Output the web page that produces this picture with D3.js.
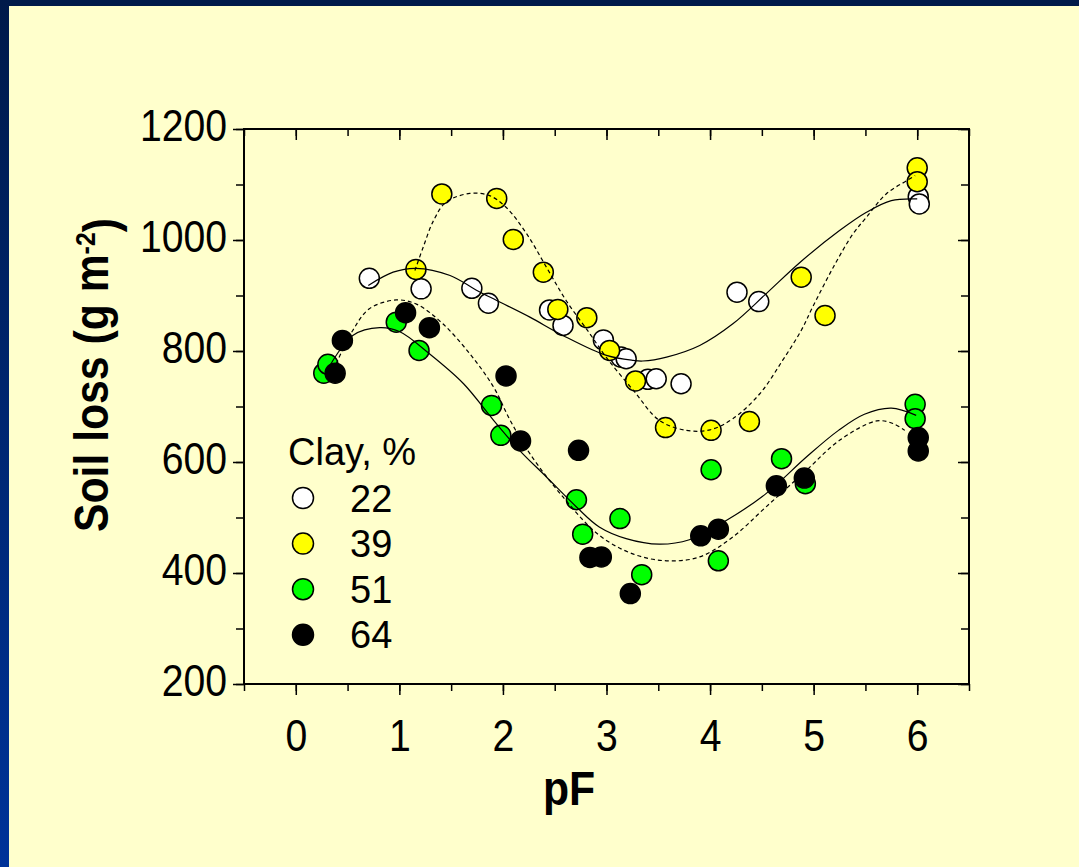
<!DOCTYPE html>
<html>
<head>
<meta charset="utf-8">
<script src="https://cdn.jsdelivr.net/npm/d3@7"></script>
<style>
  body { margin: 0; background: #ffffcc; }
  svg { display: block; }
</style>
</head>
<body>
<svg id="canvas" width="1079" height="867"></svg>
<script>
/***********************************************************************/
// Data

var clayLabels = ['22', '39', '51', '64'];
var clayColors = ['#ffffff', '#ffff00', '#00ff00', '#000000'];

// measured points, pF and soil loss (g m-2)
var pf22   = [0.71, 1.21, 1.70, 1.86, 2.45, 2.58, 2.97, 3.14, 3.19, 3.40, 3.48, 3.72, 4.26, 4.47, 6.01, 6.02];
var loss22 = [931, 912, 913, 886, 874, 846, 820, 789, 786, 749, 750, 741, 906, 889, 1078, 1065];

var pf39   = [1.16, 1.41, 1.94, 2.10, 2.39, 2.53, 2.81, 3.03, 3.28, 3.57, 4.01, 4.38, 4.88, 5.11, 6.00, 6.00];
var loss39 = [947, 1083, 1075, 1001, 942, 875, 860, 801, 746, 662, 657, 673, 933, 864, 1130, 1105];

var pf51   = [0.27, 0.31, 0.97, 1.19, 1.89, 1.98, 2.71, 2.77, 3.13, 3.34, 4.01, 4.08, 4.69, 4.92, 5.98, 5.98];
var loss51 = [760, 776, 852, 801, 702, 648, 532, 470, 498, 397, 586, 422, 606, 561, 704, 678];

var pf64   = [0.38, 0.45, 1.06, 1.29, 2.03, 2.17, 2.73, 2.84, 2.95, 3.23, 3.91, 4.08, 4.64, 4.91, 6.01, 6.01];
var loss64 = [760, 819, 869, 842, 755, 638, 621, 428, 429, 363, 467, 479, 557, 571, 644, 620];

// fitted curves
var fitPf22   = [0.70, 0.94, 1.16, 1.49, 1.74, 1.94, 2.26, 2.58, 3.00, 3.26, 3.35, 3.58, 3.90, 4.22, 4.54, 4.87, 5.25, 5.51, 5.75, 6.00];
var fitLoss22 = [918, 942, 949, 936, 910, 891, 861, 828, 792, 783, 782, 789, 810, 849, 903, 960, 1017, 1050, 1071, 1074];

var fitPf39   = [1.15, 1.23, 1.33, 1.45, 1.68, 1.87, 2.03, 2.23, 2.42, 2.61, 2.84, 3.00, 3.26, 3.51, 3.77, 4.00, 4.22, 4.48, 4.70, 4.88, 4.99, 5.19, 5.38, 5.51, 5.70, 5.90, 5.98];
var fitLoss39 = [945, 987, 1035, 1068, 1084, 1080, 1059, 1011, 951, 891, 831, 788, 729, 675, 657, 658, 678, 723, 783, 837, 879, 951, 1011, 1041, 1083, 1107, 1116];

var fitPf51   = [0.33, 0.55, 0.81, 1.00, 1.29, 1.62, 1.91, 2.16, 2.42, 2.71, 2.93, 3.19, 3.51, 3.80, 4.16, 4.54, 4.93, 5.24, 5.49, 5.75, 5.99];
var fitLoss51 = [774, 828, 842, 835, 795, 741, 675, 621, 573, 519, 483, 462, 452, 460, 495, 543, 609, 657, 686, 697, 684];

var fitPf64   = [0.39, 0.55, 0.71, 0.97, 1.17, 1.42, 1.68, 1.91, 2.07, 2.26, 2.58, 2.93, 3.26, 3.58, 3.90, 4.22, 4.54, 4.93, 5.25, 5.61, 5.77, 5.88];
var fitLoss64 = [777, 837, 876, 892, 884, 849, 795, 735, 675, 615, 537, 468, 434, 422, 429, 465, 519, 585, 639, 674, 669, 657];

var xTickValues = [0, 1, 2, 3, 4, 5, 6];
var yTickValues = [200, 400, 600, 800, 1000, 1200];

/***********************************************************************/
// Layout

var W = 1079, H = 867;
var plotLeft = 244, plotRight = 969, plotTop = 129, plotBottom = 684;
var font = "Arial, 'Liberation Sans', sans-serif";
var squeeze = 0.89;

var svg = d3.select('#canvas');

var xScale = d3.scaleLinear().domain([-0.5, 6.5]).range([plotLeft, plotRight]);
var yScale = d3.scaleLinear().domain([200, 1200]).range([plotBottom, plotTop]);

/***********************************************************************/
// Background with the slide frame

var grad = svg.append('defs').append('linearGradient')
  .attr('id', 'sideBlue').attr('x1', 0).attr('y1', 0).attr('x2', 0).attr('y2', 1);
grad.append('stop').attr('offset', '0%').attr('stop-color', '#001a4a');
grad.append('stop').attr('offset', '100%').attr('stop-color', '#003399');

svg.append('rect').attr('width', W).attr('height', H).attr('fill', '#ffffcc');
svg.append('rect').attr('width', W).attr('height', 6).attr('fill', '#001a4a');
svg.append('rect').attr('width', 9).attr('height', H).attr('fill', 'url(#sideBlue)');

/***********************************************************************/
// Axes

function styleAxis(g){
  g.selectAll('.domain').remove();
  g.selectAll('line').attr('stroke', '#000').attr('stroke-width', 1.5);
  g.selectAll('text').attr('fill', '#000').style('font-family', font).style('font-size', '44px');
}

var xMinor = d3.range(-0.5, 6.51, 0.5);
var yMinor = d3.range(200, 1201, 100);

// bottom: outward ticks with labels
var gBottom = svg.append('g').attr('transform', 'translate(0,' + plotBottom + ')');
gBottom.call(d3.axisBottom(xScale).tickValues(xMinor).tickSize(7).tickFormat(''));
gBottom.append('g').call(d3.axisBottom(xScale).tickValues(xTickValues).tickSize(11).tickPadding(25).tickFormat(d3.format('d')));
styleAxis(gBottom);
gBottom.selectAll('text').attr('transform', 'scale(' + squeeze + ',1)');

// top: inward ticks
var gTop = svg.append('g').attr('transform', 'translate(0,' + plotTop + ')');
gTop.call(d3.axisTop(xScale).tickValues(xMinor).tickSize(-7).tickFormat(''));
gTop.append('g').call(d3.axisTop(xScale).tickValues(xTickValues).tickSize(-11).tickFormat(''));
styleAxis(gTop);

// left: outward ticks with labels
var gLeft = svg.append('g').attr('transform', 'translate(' + plotLeft + ',0)');
gLeft.call(d3.axisLeft(yScale).tickValues(yMinor).tickSize(8).tickFormat(''));
gLeft.append('g').call(d3.axisLeft(yScale).tickValues(yTickValues).tickSize(11).tickPadding(6).tickFormat(d3.format('d')));
styleAxis(gLeft);
gLeft.selectAll('text')
  .attr('dy', '0.27em')
  .attr('x', -17 / squeeze)
  .attr('transform', 'scale(' + squeeze + ',1)');

// right: inward ticks
var gRight = svg.append('g').attr('transform', 'translate(' + plotRight + ',0)');
gRight.call(d3.axisRight(yScale).tickValues(yMinor).tickSize(-8).tickFormat(''));
gRight.append('g').call(d3.axisRight(yScale).tickValues(yTickValues).tickSize(-11).tickFormat(''));
styleAxis(gRight);

// frame
svg.append('rect')
  .attr('x', plotLeft).attr('y', plotTop)
  .attr('width', plotRight - plotLeft).attr('height', plotBottom - plotTop)
  .attr('fill', 'none').attr('stroke', '#000').attr('stroke-width', 2);

/***********************************************************************/
// Axis titles

svg.append('text')
  .attr('transform', 'translate(569,805) scale(' + squeeze + ',1)')
  .attr('text-anchor', 'middle')
  .style('font-family', font).style('font-size', '48px').style('font-weight', 'bold')
  .text('pF');

var yTitle = svg.append('text')
  .attr('transform', 'translate(108,375) rotate(-90) scale(' + squeeze + ',1)')
  .attr('text-anchor', 'middle')
  .style('font-family', font).style('font-size', '48px').style('font-weight', 'bold');
yTitle.append('tspan').text('Soil loss (g m');
yTitle.append('tspan').attr('dy', '-0.45em').style('font-size', '28px').text('-2');
yTitle.append('tspan').attr('dy', '0.45em').text(')');

/***********************************************************************/
// Points

var series = [
  { pf: pf22, loss: loss22, fitPf: fitPf22, fitLoss: fitLoss22, dash: null },
  { pf: pf39, loss: loss39, fitPf: fitPf39, fitLoss: fitLoss39, dash: '4,3' },
  { pf: pf51, loss: loss51, fitPf: fitPf51, fitLoss: fitLoss51, dash: null },
  { pf: pf64, loss: loss64, fitPf: fitPf64, fitLoss: fitLoss64, dash: '4,3' }
];

series.forEach(function(s, i){
  svg.append('g').selectAll('circle')
    .data(s.pf.map(function(p, j){ return [p, s.loss[j]]; }))
    .enter().append('circle')
    .attr('cx', function(d){ return xScale(d[0]); })
    .attr('cy', function(d){ return yScale(d[1]); })
    .attr('r', 10)
    .attr('fill', clayColors[i])
    .attr('stroke', '#000').attr('stroke-width', 1.5);
});

var line = d3.line()
  .x(function(d){ return xScale(d[0]); })
  .y(function(d){ return yScale(d[1]); })
  .curve(d3.curveCatmullRom);

series.forEach(function(s){
  svg.append('path')
    .datum(s.fitPf.map(function(p, j){ return [p, s.fitLoss[j]]; }))
    .attr('d', line)
    .attr('fill', 'none')
    .attr('stroke', '#000').attr('stroke-width', 1.2)
    .attr('stroke-dasharray', s.dash);
});

/***********************************************************************/
// Legend

var legend = svg.append('g');
legend.append('text')
  .attr('x', 288).attr('y', 465)
  .style('font-family', font).style('font-size', '38px')
  .text('Clay, %');

clayLabels.forEach(function(lab, i){
  var cy = 498 + i * 45.6;
  legend.append('circle')
    .attr('cx', 303).attr('cy', cy).attr('r', 10.5)
    .attr('fill', clayColors[i]).attr('stroke', '#000').attr('stroke-width', 1.5);
  legend.append('text')
    .attr('x', 350).attr('y', cy + 13.5)
    .style('font-family', font).style('font-size', '38px')
    .text(lab);
});
</script>
</body>
</html>
